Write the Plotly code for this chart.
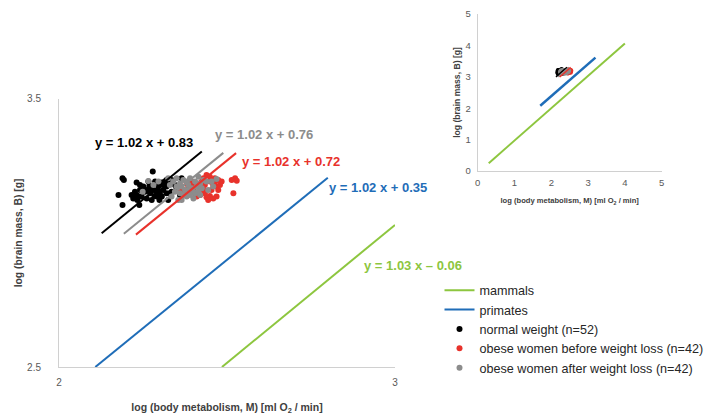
import plotly.graph_objects as go

# ---------------- data ----------------
normal_x = [2.189, 2.193, 2.177, 2.189, 2.231, 2.241, 2.266, 2.279, 2.286, 2.231,
            2.233, 2.239, 2.246, 2.256, 2.261, 2.271, 2.281, 2.291, 2.296, 2.301,
            2.306, 2.310, 2.320, 2.325, 2.330, 2.335, 2.320, 2.261, 2.221, 2.276,
            2.299, 2.350, 2.360, 2.365, 2.335, 2.345, 2.310, 2.315, 2.241, 2.216,
            2.226, 2.251, 2.269, 2.284, 2.306, 2.325, 2.291, 2.271, 2.395, 2.239,
            2.299, 2.320]
normal_y = [3.204, 3.198, 3.142, 3.104, 3.188, 3.179, 3.192, 3.229, 3.192, 3.142,
            3.123, 3.104, 3.136, 3.154, 3.160, 3.148, 3.160, 3.154, 3.173, 3.142,
            3.136, 3.160, 3.148, 3.123, 3.148, 3.198, 3.173, 3.129, 3.129, 3.123,
            3.123, 3.167, 3.142, 3.204, 3.154, 3.179, 3.179, 3.192, 3.160, 3.142,
            3.154, 3.173, 3.175, 3.138, 3.188, 3.188, 3.136, 3.167, 3.190, 3.136,
            3.154, 3.198]

before_x = [2.439, 2.449, 2.464, 2.474, 2.514, 2.524, 2.529, 2.519, 2.449, 2.439,
            2.444, 2.420, 2.430, 2.410, 2.459, 2.469, 2.464, 2.400, 2.385, 2.390,
            2.370, 2.360, 2.380, 2.425, 2.434, 2.454, 2.474, 2.420, 2.405, 2.479,
            2.484, 2.449, 2.395, 2.375, 2.434, 2.415, 2.400, 2.469, 2.459, 2.430,
            2.410, 2.365]
before_y = [3.216, 3.210, 3.204, 3.198, 3.198, 3.204, 3.195, 3.148, 3.138, 3.133,
            3.123, 3.167, 3.160, 3.173, 3.179, 3.173, 3.192, 3.179, 3.173, 3.154,
            3.160, 3.167, 3.185, 3.192, 3.179, 3.160, 3.160, 3.142, 3.148, 3.179,
            3.192, 3.192, 3.192, 3.142, 3.148, 3.185, 3.160, 3.136, 3.129, 3.204,
            3.136, 3.148]

after_x = [2.266, 2.249, 2.281, 2.296, 2.325, 2.330, 2.340, 2.350, 2.360, 2.365,
           2.370, 2.375, 2.380, 2.385, 2.390, 2.395, 2.400, 2.405, 2.410, 2.415,
           2.420, 2.425, 2.430, 2.370, 2.380, 2.360, 2.345, 2.335, 2.390, 2.405,
           2.415, 2.355, 2.400, 2.439, 2.454, 2.469, 2.444, 2.459, 2.365, 2.420,
           2.350, 2.385]
after_y = [3.194, 3.154, 3.179, 3.192, 3.204, 3.179, 3.192, 3.204, 3.185, 3.173,
           3.198, 3.160, 3.192, 3.179, 3.204, 3.167, 3.154, 3.192, 3.173, 3.210,
           3.185, 3.167, 3.198, 3.142, 3.136, 3.148, 3.154, 3.136, 3.142, 3.148,
           3.154, 3.123, 3.129, 3.192, 3.192, 3.201, 3.160, 3.173, 3.123, 3.142,
           3.173, 3.160]

# regression lines (end points)
fit_normal_x = [2.127, 2.425]
fit_normal_y = [2.999, 3.304]
fit_after_x = [2.193, 2.489]
fit_after_y = [2.997, 3.299]
fit_before_x = [2.229, 2.527]
fit_before_y = [2.994, 3.298]

# main panel reference lines
mammals_x = [2.485, 3.0]
mammals_y = [2.5, 3.03]
primates_x = [2.108, 2.80]
primates_y = [2.5, 3.206]

# inset reference lines
mammals_x_full = [0.3, 4.0]
mammals_y_full = [0.25, 4.06]
primates_x_full = [1.7, 3.2]
primates_y_full = [2.08, 3.61]

equations = ["y = 1.02 x + 0.83", "y = 1.02 x + 0.76", "y = 1.02 x + 0.72",
             "y = 1.02 x + 0.35", "y = 1.03 x \u2013 0.06"]

names = ["mammals", "primates", "normal weight (n=52)",
         "obese women before weight loss (n=42)",
         "obese women after weight loss (n=42)"]

GREEN = "#8DC63F"
BLUE = "#1F6DB8"
RED = "#E8322B"
GRAY = "#8C8C8C"
BLACK = "#000000"
FONT = "Liberation Sans, Arial, sans-serif"

fig = go.Figure()

# ---------- main panel ----------
fig.add_trace(go.Scatter(x=mammals_x, y=mammals_y, mode="lines", name=names[0],
                         line=dict(color=GREEN, width=2), xaxis="x", yaxis="y"))
fig.add_trace(go.Scatter(x=primates_x, y=primates_y, mode="lines", name=names[1],
                         line=dict(color=BLUE, width=2), xaxis="x", yaxis="y"))
fig.add_trace(go.Scatter(x=normal_x, y=normal_y, mode="markers", name=names[2],
                         marker=dict(color=BLACK, size=6), xaxis="x", yaxis="y"))
fig.add_trace(go.Scatter(x=before_x, y=before_y, mode="markers", name=names[3],
                         marker=dict(color=RED, size=6), xaxis="x", yaxis="y"))
fig.add_trace(go.Scatter(x=after_x, y=after_y, mode="markers", name=names[4],
                         marker=dict(color=GRAY, size=6), xaxis="x", yaxis="y"))
for fx, fy, c in [(fit_normal_x, fit_normal_y, BLACK),
                  (fit_after_x, fit_after_y, GRAY),
                  (fit_before_x, fit_before_y, RED)]:
    fig.add_trace(go.Scatter(x=fx, y=fy, mode="lines", showlegend=False,
                             line=dict(color=c, width=2), xaxis="x", yaxis="y"))

# ---------- inset ----------
fig.add_trace(go.Scatter(x=mammals_x_full, y=mammals_y_full, mode="lines", showlegend=False,
                         line=dict(color=GREEN, width=2), xaxis="x2", yaxis="y2"))
fig.add_trace(go.Scatter(x=primates_x_full, y=primates_y_full, mode="lines", showlegend=False,
                         line=dict(color=BLUE, width=2.5), xaxis="x2", yaxis="y2"))
for px, py, c in [(normal_x, normal_y, BLACK), (before_x, before_y, RED),
                  (after_x, after_y, GRAY)]:
    fig.add_trace(go.Scatter(x=px, y=py, mode="markers", showlegend=False,
                             marker=dict(color=c, size=5), xaxis="x2", yaxis="y2"))
for fx, fy, c in [(fit_normal_x, fit_normal_y, BLACK),
                  (fit_after_x, fit_after_y, GRAY),
                  (fit_before_x, fit_before_y, RED)]:
    fig.add_trace(go.Scatter(x=fx, y=fy, mode="lines", showlegend=False,
                             line=dict(color=c, width=1.5), xaxis="x2", yaxis="y2"))

# ---------- equations ----------
eq_pos = [(2.1012, 3.336, BLACK), (2.4583, 3.369, GRAY), (2.5387, 3.265, RED),
          (2.7976, 3.168, BLUE), (2.9018, 2.877, GREEN)]
annotations = []
for txt, (ax_, ay_, c) in zip(equations, eq_pos):
    annotations.append(dict(x=ax_, y=ay_, xref="x", yref="y", text="<b>%s</b>" % txt,
                            showarrow=False, xanchor="left", yanchor="middle",
                            font=dict(family=FONT, size=13, color=c)))

axis_common = dict(showgrid=False, zeroline=False, showline=True,
                   linecolor="#D0D0D0", linewidth=1, ticks="", automargin=False,
                   tickfont=dict(family=FONT, size=10, color="#595959"))

fig.update_layout(
    width=706, height=408,
    margin=dict(l=0, r=0, t=0, b=0, autoexpand=False),
    paper_bgcolor="white", plot_bgcolor="white",
    font=dict(family=FONT, color="#404040"),
    xaxis=dict(domain=[0.07224, 0.54816], range=[2, 3], tickvals=[2, 3],
               ticktext=["2", "3"], ticklabelstandoff=6, anchor="y",
               title=dict(text="<b>log (body metabolism, M) [ml O<sub>2</sub> / min]</b>",
                          font=dict(family=FONT, size=10.5, color="#404040"), standoff=16),
               **axis_common),
    yaxis=dict(domain=[0.1201, 0.7770], range=[2.5, 3.5], tickvals=[2.5, 3.5],
               ticktext=["2.5", "3.5"], ticklabelstandoff=15, anchor="x",
               title=dict(text="<b>log (brain mass, B) [g]</b>",
                          font=dict(family=FONT, size=10.3, color="#404040"), standoff=2),
               **axis_common),
    xaxis2=dict(domain=[0.6653, 0.9259], range=[0, 5], tickvals=[0, 1, 2, 3, 4, 5],
                anchor="y2", ticklabelstandoff=3, automargin=False,
                title=dict(text="<b>log (body metabolism, M) [ml O<sub>2</sub> / min]</b>",
                           font=dict(family=FONT, size=7.6, color="#404040"), standoff=10),
                showgrid=False, zeroline=False, showline=True, linecolor="#D0D0D0",
                ticks="", tickfont=dict(family=FONT, size=9.5, color="#595959")),
    yaxis2=dict(domain=[0.6005, 0.9853], range=[0, 5], tickvals=[0, 1, 2, 3, 4, 5],
                anchor="x2", ticklabelstandoff=4, automargin=False,
                ticklabeloverflow="allow",
                title=dict(text="<b>log (brain mass, B) [g]</b>",
                           font=dict(family=FONT, size=8.6, color="#404040"), standoff=3),
                showgrid=False, zeroline=False, showline=True, linecolor="#D0D0D0",
                ticks="", tickfont=dict(family=FONT, size=9.5, color="#595959")),
    legend=dict(x=0.6112, y=0.2132, xanchor="left", yanchor="middle",
                font=dict(family=FONT, size=12.6, color="#262626"),
                bgcolor="rgba(0,0,0,0)", itemwidth=30, tracegroupgap=0),
    annotations=annotations,
    showlegend=True,
)

fig.write_html("out.html")
